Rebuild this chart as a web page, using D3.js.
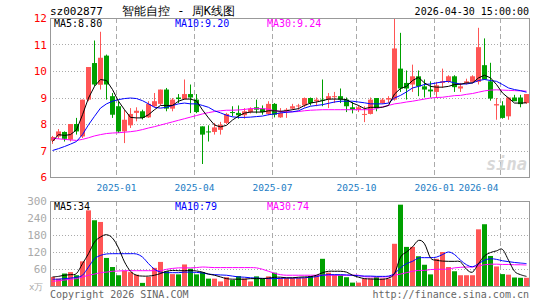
<!DOCTYPE html>
<html>
<head>
<meta charset="utf-8">
<script src="https://cdn.jsdelivr.net/npm/d3@7"></script>
<style>
  body { margin: 0; background: #fff; }
  text { font-family: "DejaVu Sans Mono", monospace; }
</style>
</head>
<body>
<svg width="545" height="300"></svg>
<script>
// weekly candles (oldest first)
var open  = [7.37,7.53,7.70,7.41,8.00,7.53,8.92,10.30,9.48,10.58, 9.05,8.67,7.72,7.95,8.42,8.48,8.25,8.67,8.76,9.30,
             8.58,9.00,8.94,9.13,8.92,7.91,7.72,7.70,7.78,8.04, 8.45,8.42,8.33,8.45,8.63,8.58,8.38,8.76,8.25,8.50,
             8.58,8.67,8.70,8.98,8.86,8.92,8.92,9.02,9.05,8.92, 8.63,8.54,8.36,8.38,8.98,8.79,8.92,8.92,10.09,9.55,
             9.49,9.80,9.42,9.30,9.21,9.55,9.59,9.80,9.34,9.55, 9.59,9.59,10.22,9.61,8.70,8.70,8.29,9.00,9.00,8.79];
var high  = [7.55,7.81,7.72,8.00,8.23,8.92,10.15,11.15,11.48,10.62, 9.17,8.85,8.54,8.60,8.63,8.54,8.86,9.17,9.30,9.36,
             8.98,9.13,9.68,9.49,9.13,7.91,7.95,8.04,8.08,8.42, 8.67,8.70,8.60,8.63,8.92,8.70,8.86,8.79,8.60,8.60,
             8.76,8.76,9.00,9.00,9.00,9.68,9.17,9.21,9.34,9.00, 8.83,8.70,8.67,9.00,8.98,8.98,9.05,12.00,11.44,10.02,
             10.24,10.02,9.68,9.61,9.59,10.09,9.84,9.84,9.55,9.71, 9.84,11.63,11.23,10.31,8.98,8.86,9.00,9.10,9.10,9.13];
var low   = [7.25,7.44,7.34,7.34,7.60,7.47,8.86,9.42,9.30,8.92, 8.23,7.66,7.28,7.85,8.10,8.17,8.23,8.63,8.71,8.48,
             8.48,8.79,8.92,8.41,8.41,6.49,7.34,7.60,7.60,8.00, 8.29,8.20,8.20,8.40,8.40,8.35,8.33,8.25,8.23,8.23,
             8.54,8.54,8.63,8.70,8.67,8.67,8.60,8.79,8.79,8.45, 8.40,8.45,8.07,8.36,8.48,8.76,8.79,8.88,9.21,8.92,
             9.21,9.05,9.00,9.00,8.98,9.36,9.55,9.21,9.21,9.49, 9.55,9.49,9.68,8.88,8.16,8.20,8.16,8.86,8.63,8.76];
var close = [7.51,7.72,7.44,8.00,7.72,8.92,10.15,9.49,10.50,9.49, 8.35,7.72,8.16,8.38,8.50,8.23,8.76,8.86,9.30,8.58,
             8.92,8.94,9.13,9.00,8.45,7.60,7.70,7.87,7.97,8.38, 8.42,8.33,8.48,8.58,8.54,8.45,8.76,8.35,8.42,8.54,
             8.67,8.70,8.98,8.79,8.92,8.90,9.05,9.05,8.92,8.67, 8.54,8.63,8.38,8.92,8.60,8.92,8.98,10.85,9.34,9.34,
             9.80,9.42,9.30,9.23,9.46,9.61,9.80,9.39,9.42,9.61, 9.80,10.90,9.68,8.96,8.75,8.23,9.00,8.86,8.75,9.13];
// volume in 万手
var volume = [32,26,44,49,38,87,267,232,226,99, 67,38,54,49,40,11,32,64,85,52,
              42,41,76,61,41,49,26,26,16,31, 21,35,26,16,34,26,34,47,28,28,
              28,28,28,35,38,96,47,40,38,31, 12,12,26,26,31,26,26,149,287,138,
              138,105,75,41,96,120,67,52,38,38, 38,200,218,106,69,42,40,30,29,29];

// moving averages as drawn
var ma5  = [7.34,7.60,7.57,7.60,7.78,8.35,8.98,9.42,9.68,9.64, 9.30,8.86,8.54,8.25,8.23,8.23,8.35,8.54,8.70,8.70,
            8.70,8.86,8.94,8.94,8.87,8.53,8.23,7.96,7.89,7.95, 8.15,8.30,8.41,8.45,8.45,8.45,8.50,8.50,8.48,8.50,
            8.54,8.58,8.70,8.79,8.83,8.88,8.94,8.94,8.94,8.92, 8.79,8.70,8.58,8.63,8.63,8.63,8.70,9.13,9.34,9.42,
            9.64,9.76,9.55,9.42,9.39,9.39,9.42,9.49,9.50,9.55, 9.55,9.74,9.84,9.74,9.49,9.17,8.98,8.79,8.79,8.80];
var ma10 = [7.00,7.07,7.15,7.24,7.34,7.60,7.97,8.29,8.60,8.76, 8.86,8.92,8.96,8.98,8.96,8.88,8.76,8.63,8.60,8.63,
            8.70,8.76,8.79,8.76,8.76,8.70,8.63,8.50,8.42,8.33, 8.27,8.25,8.25,8.26,8.28,8.30,8.35,8.38,8.42,8.44,
            8.46,8.50,8.60,8.67,8.70,8.73,8.78,8.83,8.86,8.86, 8.86,8.83,8.80,8.76,8.76,8.76,8.79,8.98,9.08,9.21,
            9.36,9.42,9.49,9.51,9.55,9.59,9.61,9.55,9.51,9.51, 9.55,9.64,9.68,9.64,9.61,9.49,9.36,9.30,9.26,9.20];
var ma30 = [7.46,7.44,7.42,7.40,7.38,7.42,7.48,7.55,7.60,7.64, 7.66,7.67,7.69,7.71,7.74,7.79,7.85,7.90,7.96,8.02,
            8.08,8.14,8.20,8.26,8.32,8.38,8.43,8.47,8.50,8.52, 8.52,8.53,8.55,8.58,8.58,8.58,8.56,8.50,8.47,8.46,
            8.46,8.47,8.50,8.52,8.53,8.54,8.54,8.54,8.54,8.54, 8.54,8.54,8.54,8.54,8.58,8.65,8.70,8.76,8.79,8.83,
            8.86,8.90,8.94,8.98,9.00,9.01,9.04,9.07,9.08,9.12, 9.15,9.20,9.25,9.28,9.29,9.28,9.27,9.26,9.25,9.24];
var vma5  = [32,34,38,40,44,79,114,155,173,181, 169,134,85,52,38,35,35,38,44,52,
             55,54,54,55,53,49,42,38,32,26, 24,24,24,26,26,26,28,31,31,29,
             29,31,32,33,38,47,52,52,52,49, 38,31,26,25,24,24,28,44,102,120,
             138,161,149,99,91,88,87,87,85,59, 49,79,106,118,124,129,91,52,40,34];
var vma10 = [24,24,26,28,31,38,67,96,108,113, 114,114,114,114,113,102,79,59,49,47,
             47,47,49,49,48,46,42,40,39,38, 35,32,31,29,28,27,26,26,27,28,
             28,28,29,31,33,38,40,40,40,39, 38,36,35,35,34,34,35,44,64,79,
             87,99,100,100,102,111,120,111,91,75, 68,79,91,96,94,89,86,83,81,79];
var vma30 = [16,19,21,24,26,32,38,42,47,49, 52,53,54,54,54,54,54,54,54,59,
             62,64,64,64,65,67,66,65,65,65, 65,65,65,65,64,59,52,45,40,38,
             38,38,38,38,38,38,38,38,38,38, 38,38,33,32,32,32,33,38,42,47,
             52,55,55,58,59,59,60,64,66,67, 67,71,75,77,77,76,76,75,75,74];

var monthLabels = ["2025-01","2025-04","2025-07","2025-10","2026-01","2026-04"];
var monthWeeks  = [11, 24, 37, 51, 64, 75];   // first week of each month
var priceTicks  = [6,7,8,9,10,11,12];
var volTicks    = [60,120,180,240,300];

var svg = d3.select("svg");
var W = 545;
var left = 50, right = 529;
var pTop = 18, pBot = 177, vTop = 201, vBot = 286;

var x = d3.scaleBand().domain(d3.range(close.length)).range([49.5, 529.5]);
var cx = function(i) { return x(i) + 3; };
var yP = d3.scaleLinear().domain([6, 12]).range([pBot, pTop]);
var yV = d3.scaleLinear().domain([0, 300]).range([vBot, vTop]);

var RED = "#ff5555", GREEN = "#00a000";
var up = function(i) { return close[i] >= open[i]; };

svg.append("rect").attr("width", W).attr("height", 300).attr("fill", "#fff");

// **** grid ****
svg.selectAll(".pgrid").data(priceTicks.slice(1, -1)).enter().append("line")
    .attr("x1", left).attr("x2", right)
    .attr("y1", function(d){ return Math.round(yP(d)) + 0.5; })
    .attr("y2", function(d){ return Math.round(yP(d)) + 0.5; })
    .attr("stroke", "#aaa").attr("stroke-dasharray", "1,2");
svg.selectAll(".vgrid").data(volTicks.slice(0, -1)).enter().append("line")
    .attr("x1", left).attr("x2", right)
    .attr("y1", function(d){ return Math.round(yV(d)) + 0.5; })
    .attr("y2", function(d){ return Math.round(yV(d)) + 0.5; })
    .attr("stroke", "#aaa").attr("stroke-dasharray", "1,2");

monthWeeks.forEach(function(w, k) {
    var lx = Math.round(x(w)) + 0.5;
    [[pTop, pBot], [vTop, vBot]].forEach(function(r) {
        svg.append("line").attr("x1", lx).attr("x2", lx).attr("y1", r[0]).attr("y2", r[1])
            .attr("stroke", "#aaa").attr("stroke-dasharray", "5,3");
    });
    var last = lx > 480;
    svg.append("text")
        .attr("x", last ? lx - 2 : lx).attr("y", 191)
        .attr("text-anchor", last ? "end" : "middle")
        .attr("font-size", "9.5px").attr("fill", "#1a7cc4")
        .text(monthLabels[k]);
});

// sina watermark
svg.append("text").attr("x", 527).attr("y", 170).attr("text-anchor", "end")
    .attr("font-family", "DejaVu Sans").attr("font-size", "17px")
    .attr("font-style", "italic").attr("font-weight", "bold")
    .attr("fill", "#d8d8d8").text("sina");

// **** candles ****
var candles = svg.append("g");
d3.range(close.length).forEach(function(i) {
    var col = up(i) ? RED : GREEN;
    candles.append("line")
        .attr("x1", cx(i)).attr("x2", cx(i))
        .attr("y1", yP(high[i])).attr("y2", yP(low[i]))
        .attr("stroke", col);
    var t = yP(Math.max(open[i], close[i])), b = yP(Math.min(open[i], close[i]));
    candles.append("rect")
        .attr("x", x(i) + 0.5).attr("width", 5)
        .attr("y", t).attr("height", Math.max(1, b - t))
        .attr("fill", col);
});

// **** volume bars ****
svg.append("g").selectAll("rect").data(volume).enter().append("rect")
    .attr("x", function(d, i){ return x(i) + 0.5; })
    .attr("width", 5)
    .attr("y", function(d){ return yV(d); })
    .attr("height", function(d){ return yV(0) - yV(d); })
    .attr("fill", function(d, i){ return up(i) ? RED : GREEN; });

// **** moving averages ****
svg.append("clipPath").attr("id", "pclip").append("rect")
    .attr("x", left).attr("y", pTop).attr("width", right - left).attr("height", pBot - pTop);
svg.append("clipPath").attr("id", "vclip").append("rect")
    .attr("x", left).attr("y", vTop).attr("width", right - left).attr("height", vBot - vTop);

var pLine = d3.line().x(function(d, i){ return cx(i); }).y(function(d){ return yP(d); });
var vLine = d3.line().x(function(d, i){ return cx(i); }).y(function(d){ return yV(d); })
    .curve(d3.curveCardinal);

[[ma30, "#ff00ff"], [ma10, "#0000ff"], [ma5, "#000"]].forEach(function(s) {
    svg.append("path").attr("d", pLine(s[0])).attr("fill", "none")
        .attr("stroke", s[1]).attr("clip-path", "url(#pclip)");
});
[[vma30, "#ff00ff"], [vma10, "#0000ff"], [vma5, "#000"]].forEach(function(s) {
    svg.append("path").attr("d", vLine(s[0])).attr("fill", "none")
        .attr("stroke", s[1]).attr("clip-path", "url(#vclip)");
});

// **** frames ****
svg.append("rect").attr("x", left + 0.5).attr("y", pTop + 0.5)
    .attr("width", right - left).attr("height", pBot - pTop)
    .attr("fill", "none").attr("stroke", "#999");
svg.append("rect").attr("x", left + 0.5).attr("y", vTop + 0.5)
    .attr("width", right - left).attr("height", vBot - vTop)
    .attr("fill", "none").attr("stroke", "#999");

// **** axis labels ****
svg.selectAll(".plab").data(priceTicks).enter().append("text")
    .attr("x", 47).attr("y", function(d){ return yP(d) + 4; })
    .attr("text-anchor", "end").attr("font-size", "11px").attr("fill", "#f00")
    .text(function(d){ return d; });
svg.selectAll(".vlab").data(volTicks).enter().append("text")
    .attr("x", 47).attr("y", function(d){ return yV(d) + 4; })
    .attr("text-anchor", "end").attr("font-size", "11px").attr("fill", "#aaa")
    .text(function(d){ return d; });
svg.append("text").attr("x", 29).attr("y", 290).attr("font-size", "9px")
    .attr("font-family", "Noto Sans CJK SC").attr("fill", "#aaa").text("x万");

// **** legends ****
function legend(y, items) {
    items.forEach(function(it) {
        svg.append("text").attr("x", it[0]).attr("y", y)
            .attr("font-size", "10px").attr("fill", it[2]).text(it[1]);
    });
}
legend(27, [[54, "MA5:" + d3.format(".2f")(ma5[ma5.length - 1]), "#000"],
            [175, "MA10:" + d3.format(".2f")(ma10[ma10.length - 1]), "#0000ff"],
            [267, "MA30:" + d3.format(".2f")(ma30[ma30.length - 1]), "#ff00ff"]]);
legend(210, [[54, "MA5:" + vma5[vma5.length - 1], "#000"],
             [175, "MA10:" + vma10[vma10.length - 1], "#0000ff"],
             [267, "MA30:" + vma30[vma30.length - 1], "#ff00ff"]]);

// **** titles ****
svg.append("text").attr("x", 50).attr("y", 15).attr("font-size", "11px").text("sz002877");
svg.append("text").attr("x", 122).attr("y", 15).attr("font-size", "12px")
    .attr("font-family", "Noto Sans CJK SC").text("智能自控 - 周K线图");
svg.append("text").attr("x", 529).attr("y", 15).attr("text-anchor", "end")
    .attr("font-size", "10px").text("2026-04-30 15:00:00");
svg.append("text").attr("x", 50).attr("y", 298).attr("font-size", "10px")
    .attr("fill", "#666").text("Copyright 2026 SINA.COM");
svg.append("text").attr("x", 529).attr("y", 298).attr("text-anchor", "end")
    .attr("font-size", "10px").attr("fill", "#666").text("http://finance.sina.com.cn");
</script>
</body>
</html>
